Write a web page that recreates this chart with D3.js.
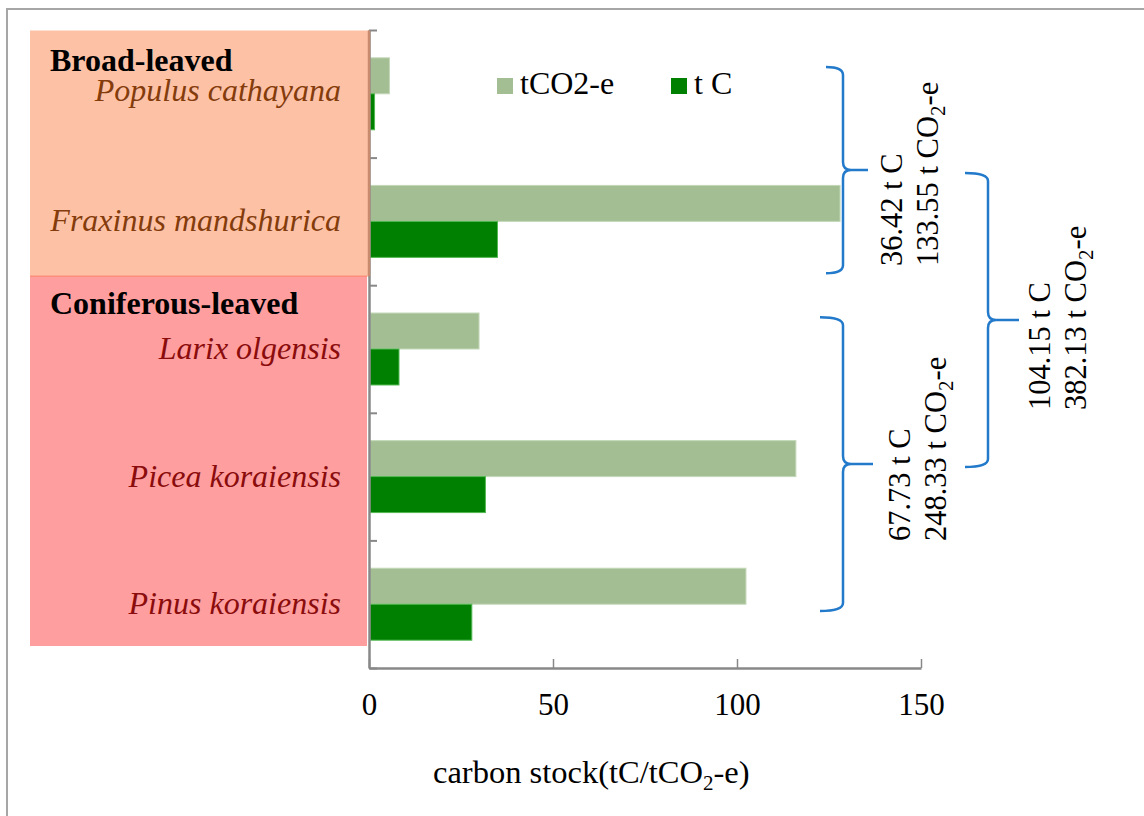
<!DOCTYPE html>
<html>
<head>
<meta charset="utf-8">
<script src="https://cdn.jsdelivr.net/npm/d3@7"></script>
<style>
  body { margin: 0; background: #fff; }
  svg { display: block; font-family: 'Liberation Serif', 'Times New Roman', serif; }
</style>
</head>
<body>
<svg id="chart" width="1144" height="816"></svg>
<script>
const SPECIES = ['Populus cathayana', 'Fraxinus mandshurica', 'Larix olgensis', 'Picea koraiensis', 'Pinus koraiensis']
const SPECIES_GROUP = [0, 0, 1, 1, 1]
const GROUP_NAMES = ['Broad-leaved', 'Coniferous-leaved']
const CO2_VALUES = [5.55, 128.0, 29.9, 116.0, 102.43]
const C_VALUES = [1.51, 34.91, 8.15, 31.64, 27.94]
const X_TICKS = [0, 50, 100, 150]
const SERIES = ['tCO2-e', 't C']
// group totals: [t C, t CO2-e]
const TOTAL_BROAD = ['36.42', '133.55']
const TOTAL_CONIF = ['67.73', '248.33']
const TOTAL_ALL = ['104.15', '382.13']

const FONT = "'Liberation Serif', 'Times New Roman', serif"
const colors = {co2: '#a4be94', c: '#008000', axis: '#888', brace: '#237acb'}

const svg = d3.select('#chart')

// outer frame
svg.append('rect')
  .attr('x', 7).attr('y', 9)
  .attr('width', 1150).attr('height', 820)
  .attr('fill', 'none')
  .attr('stroke', '#a6a6a6')
  .attr('stroke-width', 2)

const plot = {left: 369, right: 921, top: 30, bottom: 668}

const x = d3.scaleLinear().domain([0, 150]).range([plot.left, plot.right])
const y = d3.scaleBand()
  .domain(SPECIES)
  .range([plot.top, plot.bottom])
  .paddingInner(0.436)
  .paddingOuter(0.218)
const yEdges = d3.scaleLinear().domain([0, SPECIES.length]).range([plot.top, plot.bottom])
const bw = y.bandwidth()

// group background boxes
const split = yEdges(2) - 9
svg.append('rect')
  .attr('x', 30).attr('y', plot.top + 0.5)
  .attr('width', plot.left - 30).attr('height', split - plot.top)
  .attr('fill', '#fdc2a6')
svg.append('rect')
  .attr('x', 30).attr('y', split)
  .attr('width', plot.left - 32).attr('height', yEdges(5) - 22 - split)
  .attr('fill', '#ff9e9e')
svg.append('line')
  .attr('x1', 30).attr('x2', plot.left - 2)
  .attr('y1', split).attr('y2', split)
  .attr('stroke', '#fb8f7c').attr('stroke-width', 1.5)

// bars
const rows = SPECIES.map((s, i) => ({name: s, co2: CO2_VALUES[i], c: C_VALUES[i], group: SPECIES_GROUP[i]}))
const barG = svg.append('g')
barG.selectAll('.bar-co2')
  .data(rows)
  .join('rect')
  .attr('class', 'bar-co2')
  .attr('x', x(0) + 1)
  .attr('y', (d) => y(d.name))
  .attr('width', (d) => x(d.co2) - x(0) - 1)
  .attr('height', bw / 2)
  .attr('fill', colors.co2)
  .attr('stroke', '#c3d8b8')
  .attr('stroke-width', 1)
barG.selectAll('.bar-c')
  .data(rows)
  .join('rect')
  .attr('class', 'bar-c')
  .attr('x', x(0) + 1)
  .attr('y', (d) => y(d.name) + bw / 2)
  .attr('width', (d) => x(d.c) - x(0) - 1)
  .attr('height', bw / 2)
  .attr('fill', colors.c)
  .attr('stroke', '#52b852')
  .attr('stroke-width', 1)

// axes
const xAxis = svg.append('g')
  .attr('transform', `translate(0, ${plot.bottom})`)
  .call(d3.axisBottom(x).tickValues(X_TICKS).tickSizeInner(-9).tickSizeOuter(0).tickPadding(25))
xAxis.select('.domain').attr('stroke', colors.axis).attr('stroke-width', 2.5)
xAxis.selectAll('.tick line').attr('stroke', colors.axis).attr('stroke-width', 1.5)
xAxis.selectAll('.tick text')
  .attr('font-size', 31)
  .attr('font-family', FONT)
  .attr('fill', '#000')

const yAxis = svg.append('g')
  .attr('transform', `translate(${plot.left}, 0)`)
  .call(d3.axisRight(yEdges).ticks(5).tickSizeInner(8).tickSizeOuter(0).tickFormat(''))
yAxis.select('.domain').attr('stroke', colors.axis).attr('stroke-width', 2.5)
yAxis.selectAll('.tick line').attr('stroke', colors.axis).attr('stroke-width', 2)

// salmon box edge over the axis
svg.append('line')
  .attr('x1', plot.left).attr('x2', plot.left)
  .attr('y1', plot.top + 0.5).attr('y2', split)
  .attr('stroke', '#c98b6e').attr('stroke-width', 2.5)

// axis title
const title = svg.append('text')
  .attr('x', 433).attr('y', 783)
  .attr('font-family', FONT)
  .attr('font-size', 32.5)
title.append('tspan').text('carbon stock(tC/tCO')
title.append('tspan').attr('font-size', 21).attr('dy', 7).text('2')
title.append('tspan').attr('dy', -7).text('-e)')

// group titles and species labels
const groupTitleY = [71, split + 38]
svg.selectAll('.group-title')
  .data(GROUP_NAMES)
  .join('text')
  .attr('class', 'group-title')
  .attr('x', 50)
  .attr('y', (d, i) => groupTitleY[i])
  .attr('font-family', FONT)
  .attr('font-size', 32)
  .attr('font-weight', 'bold')
  .text((d) => d)

svg.selectAll('.species')
  .data(rows)
  .join('text')
  .attr('class', 'species')
  .attr('x', 341)
  .attr('y', (d, i) => y(d.name) + bw / 2 + (i === 0 ? 7 : 10))
  .attr('text-anchor', 'end')
  .attr('font-family', FONT)
  .attr('font-size', 32)
  .attr('font-style', 'italic')
  .attr('fill', (d) => d.group === 0 ? '#843c0c' : '#8a0c0c')
  .text((d) => d.name)

// legend
const legend = svg.append('g')
const legendX = [497, 671]
const legendColors = [colors.co2, colors.c]
SERIES.forEach((s, i) => {
  legend.append('rect')
    .attr('x', legendX[i]).attr('y', 78)
    .attr('width', 16).attr('height', 16)
    .attr('fill', legendColors[i])
  legend.append('text')
    .attr('x', legendX[i] + 23).attr('y', 94)
    .attr('font-family', FONT)
    .attr('font-size', 32)
    .text(s)
})

// braces
function bracePath(xe, xs, xt, y0, y1) {
  const r = 8
  const ym = (y0 + y1) / 2
  return `M${xe},${y0} Q${xs},${y0} ${xs},${y0 + r} L${xs},${ym - r} Q${xs},${ym} ${xs + r},${ym} L${xt},${ym}` +
    ` M${xs + r},${ym} Q${xs},${ym} ${xs},${ym + r} L${xs},${y1 - r} Q${xs},${y1} ${xe},${y1}`
}

const braces = [
  {xe: 826, xs: 843, xt: 868, y0: yEdges(0) + 37, y1: yEdges(2) - 12, labels: TOTAL_BROAD, tx: 902, ty: 266},
  {xe: 820, xs: 843, xt: 873, y0: yEdges(2) + 32, y1: yEdges(5) - 57, labels: TOTAL_CONIF, tx: 910, ty: 541},
  {xe: 965, xs: 988, xt: 1019, y0: 173, y1: 467, labels: TOTAL_ALL, tx: 1050, ty: 410},
]

svg.selectAll('.brace')
  .data(braces)
  .join('path')
  .attr('class', 'brace')
  .attr('d', (d) => bracePath(d.xe, d.xs, d.xt, d.y0, d.y1))
  .attr('fill', 'none')
  .attr('stroke', colors.brace)
  .attr('stroke-width', 2.5)

braces.forEach((b) => {
  const t = svg.append('text')
    .attr('transform', `translate(${b.tx}, ${b.ty}) rotate(-90)`)
    .attr('font-family', FONT)
    .attr('font-size', 30.5)
  t.append('tspan').attr('x', 0).attr('y', 0).text(`${b.labels[0]} t C`)
  const l2 = t.append('tspan').attr('x', 0).attr('y', 36)
  l2.append('tspan').text(`${b.labels[1]} t CO`)
  l2.append('tspan').attr('font-size', 21).attr('dy', 7).text('2')
  l2.append('tspan').attr('dy', -7).text('-e')
})
</script>
</body>
</html>
